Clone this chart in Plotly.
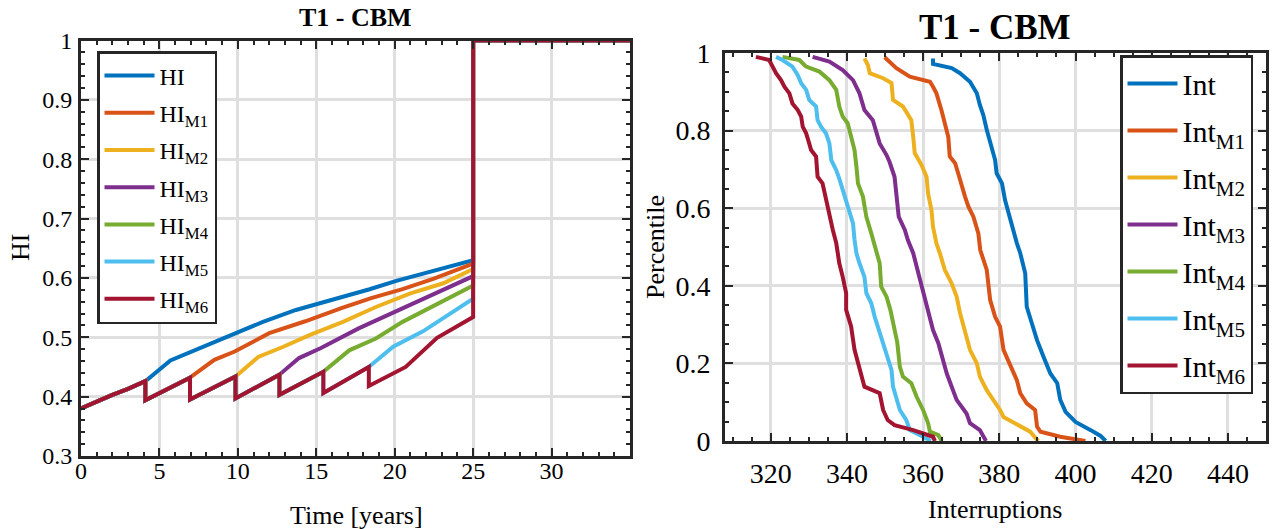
import plotly.graph_objects as go

# ---------------- data: left panel (HI vs time) ----------------
COLORS = ['#0072BD', '#D95319', '#EDB120', '#7E2F8E', '#77AC30', '#4DBEEE', '#A2142F']
hi_names = ['HI', 'HI<sub>M1</sub>', 'HI<sub>M2</sub>', 'HI<sub>M3</sub>',
            'HI<sub>M4</sub>', 'HI<sub>M5</sub>', 'HI<sub>M6</sub>']

start_t = [0, 1, 2, 3]
start_hi = [0.380, 0.392, 0.403, 0.413]
maint_t = [4.1, 6.95, 9.85, 12.65, 15.45, 18.35]
maint_pre = [0.426, 0.432, 0.434, 0.437, 0.442, 0.450]
maint_post = [0.394, 0.395, 0.397, 0.403, 0.406, 0.418]

tail_hi_t = [5.7, 7.1, 9.3, 11.6, 13.7, 15.2, 16.7, 18.4, 20.1, 22.4, 25]
tail_hi_v = [0.461, 0.476, 0.501, 0.526, 0.546, 0.557, 0.568, 0.581, 0.595, 0.611, 0.630]
tail_m1_t = [8.5, 9.8, 12.0, 14.3, 16.6, 18.5, 20.5, 22.5, 25]
tail_m1_v = [0.462, 0.476, 0.507, 0.527, 0.549, 0.566, 0.581, 0.599, 0.624]
tail_m2_t = [11.3, 12.9, 14.6, 16.7, 18.8, 21.0, 23.1, 25]
tail_m2_v = [0.467, 0.484, 0.504, 0.526, 0.551, 0.574, 0.591, 0.615]
tail_m3_t = [13.9, 15.3, 17.7, 19.9, 22.0, 25]
tail_m3_v = [0.465, 0.482, 0.515, 0.541, 0.566, 0.603]
tail_m4_t = [17.1, 18.8, 20.5, 22.7, 25]
tail_m4_v = [0.478, 0.498, 0.526, 0.555, 0.587]
tail_m5_t = [19.9, 21.8, 25]
tail_m5_v = [0.484, 0.510, 0.565]
tail_m6_t = [20.7, 22.7, 25]
tail_m6_v = [0.450, 0.499, 0.534]
end_t = [25, 35]
end_hi = [1.0, 1.0]

tails_t = [tail_hi_t, tail_m1_t, tail_m2_t, tail_m3_t, tail_m4_t, tail_m5_t, tail_m6_t]
tails_v = [tail_hi_v, tail_m1_v, tail_m2_v, tail_m3_v, tail_m4_v, tail_m5_v, tail_m6_v]

# ---------------- data: right panel (percentile vs interruptions) ----------------
int_names = ['Int', 'Int<sub>M1</sub>', 'Int<sub>M2</sub>', 'Int<sub>M3</sub>',
             'Int<sub>M4</sub>', 'Int<sub>M5</sub>', 'Int<sub>M6</sub>']

int0_x = [362.6, 362.6, 367.5, 369.7, 372.3, 374.1, 374.9, 375.8, 376.7, 378.0, 378.9, 379.3, 380.7,
          381.5, 382.4, 383.7, 384.6, 385.5, 386.8, 387.2, 388.6, 389.9, 391.6, 393.4, 395.2, 396.0,
          397.4, 400.0, 404.0, 406.6, 407.9]
int0_p = [0.986, 0.972, 0.961, 0.948, 0.926, 0.896, 0.866, 0.840, 0.802, 0.759, 0.724, 0.690, 0.664,
          0.621, 0.587, 0.544, 0.510, 0.484, 0.432, 0.346, 0.303, 0.260, 0.217, 0.174, 0.149, 0.106,
          0.075, 0.049, 0.028, 0.013, 0.0]
int1_x = [349.9, 353.0, 356.5, 361.8, 362.6, 363.5, 364.8, 365.7, 366.6, 367.0, 368.4, 369.2, 370.1,
          371.0, 371.9, 373.2, 374.5, 375.0, 376.7, 377.6, 378.9, 380.2, 381.1, 382.8, 384.6, 385.5,
          387.2, 389.4, 389.9, 390.8, 396.0, 402.6]
int1_p = [0.989, 0.961, 0.939, 0.926, 0.913, 0.896, 0.853, 0.823, 0.784, 0.733, 0.716, 0.690, 0.655,
          0.630, 0.604, 0.578, 0.535, 0.492, 0.441, 0.363, 0.320, 0.295, 0.235, 0.200, 0.157, 0.123,
          0.097, 0.080, 0.037, 0.024, 0.011, 0.0]
int2_x = [344.6, 345.5, 346.0, 349.5, 351.7, 352.1, 354.7, 356.9, 357.4, 357.8, 359.6, 360.9, 361.3,
          362.2, 362.6, 363.5, 364.4, 365.7, 367.5, 368.8, 369.7, 371.0, 372.3, 374.1, 374.9, 376.7,
          378.4, 380.2, 381.1, 385.5, 388.1, 390.2]
int2_p = [0.986, 0.969, 0.948, 0.935, 0.923, 0.879, 0.862, 0.827, 0.784, 0.742, 0.711, 0.681, 0.638,
          0.595, 0.552, 0.509, 0.484, 0.441, 0.406, 0.372, 0.329, 0.286, 0.235, 0.200, 0.166, 0.131,
          0.106, 0.080, 0.062, 0.037, 0.024, 0.0]
int3_x = [331.0, 335.4, 338.9, 341.6, 343.3, 344.6, 346.8, 347.7, 348.6, 350.4, 351.2, 352.5, 353.0,
          353.6, 355.2, 356.0, 357.4, 358.3, 359.6, 360.5, 361.8, 362.6, 364.0, 365.3, 366.2, 367.5,
          368.8, 371.4, 372.3, 374.9, 376.5]
int3_p = [0.990, 0.978, 0.956, 0.930, 0.896, 0.853, 0.827, 0.793, 0.767, 0.737, 0.719, 0.681, 0.621,
          0.578, 0.544, 0.518, 0.484, 0.449, 0.406, 0.363, 0.320, 0.286, 0.252, 0.209, 0.174, 0.140,
          0.106, 0.071, 0.046, 0.028, 0.0]
int4_x = [323.1, 327.5, 329.3, 332.8, 335.4, 337.2, 338.0, 338.9, 340.2, 341.1, 342.0, 342.5, 342.9,
          344.2, 345.1, 346.4, 347.7, 348.6, 349.0, 350.4, 351.4, 352.3, 353.2, 353.9, 354.7, 356.9,
          358.3, 360.0, 361.3, 361.8, 364.0, 364.9]
int4_p = [0.990, 0.982, 0.965, 0.952, 0.930, 0.905, 0.862, 0.836, 0.819, 0.784, 0.750, 0.707, 0.664,
          0.630, 0.578, 0.535, 0.484, 0.458, 0.398, 0.372, 0.338, 0.291, 0.255, 0.191, 0.166, 0.149,
          0.114, 0.080, 0.046, 0.024, 0.015, 0.0]
int5_x = [321.4, 323.1, 325.7, 327.1, 328.0, 329.3, 330.1, 331.9, 332.3, 333.2, 334.5, 335.4, 335.9,
          337.2, 338.1, 338.9, 339.8, 340.7, 341.6, 342.0, 342.5, 343.3, 344.6, 345.1, 346.4, 347.3,
          348.1, 349.0, 349.9, 350.8, 351.7, 352.1, 353.0, 353.9, 355.6, 356.5, 360.0, 362.0]
int5_p = [0.990, 0.982, 0.965, 0.943, 0.922, 0.905, 0.879, 0.862, 0.827, 0.810, 0.793, 0.767, 0.724,
          0.698, 0.673, 0.647, 0.613, 0.587, 0.561, 0.518, 0.484, 0.458, 0.423, 0.381, 0.355, 0.320,
          0.295, 0.269, 0.235, 0.209, 0.183, 0.140, 0.106, 0.080, 0.054, 0.028, 0.011, 0.0]
int6_x = [316.1, 319.6, 320.5, 321.4, 322.7, 323.6, 324.9, 325.7, 327.1, 328.0, 328.4, 329.3, 330.1,
          330.6, 331.9, 332.3, 333.6, 334.5, 335.4, 336.3, 337.2, 338.0, 338.9, 339.8, 339.8, 341.1,
          342.0, 342.9, 343.8, 344.6, 348.6, 349.5, 350.7, 352.5, 357.4, 360.0, 362.6, 363.1]
int6_p = [0.990, 0.982, 0.965, 0.948, 0.930, 0.913, 0.896, 0.870, 0.853, 0.836, 0.810, 0.793, 0.767,
          0.750, 0.733, 0.681, 0.664, 0.621, 0.578, 0.544, 0.510, 0.458, 0.423, 0.381, 0.338, 0.295,
          0.235, 0.200, 0.166, 0.140, 0.123, 0.080, 0.054, 0.041, 0.028, 0.020, 0.011, 0.0]

ints_x = [int0_x, int1_x, int2_x, int3_x, int4_x, int5_x, int6_x]
ints_p = [int0_p, int1_p, int2_p, int3_p, int4_p, int5_p, int6_p]

# ---------------- figure ----------------
FONT = 'Liberation Serif, Times New Roman, serif'
AXC = '#262626'
GRID = '#dfdfdf'
W, H = 1274, 529

fig = go.Figure(layout=dict(template='none'))


def hi_path(k):
    t = list(start_t)
    v = list(start_hi)
    for i in range(min(k, len(maint_t))):
        t += [maint_t[i], maint_t[i]]
        v += [maint_pre[i], maint_post[i]]
    if k < len(maint_t):
        t.append(maint_t[k])
        v.append(maint_pre[k])
    t += tails_t[k] + end_t
    v += tails_v[k] + end_hi
    return t, v


for k in range(7):
    t, v = hi_path(k)
    fig.add_trace(go.Scatter(x=t, y=v, mode='lines', name=hi_names[k],
                             legendgroup='hi%d' % k,
                             line=dict(color=COLORS[k], width=4),
                             xaxis='x', yaxis='y', legend='legend'))

for k in range(7):
    fig.add_trace(go.Scatter(x=ints_x[k], y=ints_p[k], mode='lines', name=int_names[k],
                             legendgroup='int%d' % k,
                             line=dict(color=COLORS[k], width=4),
                             xaxis='x2', yaxis='y2', legend='legend2'))


def ax(domain, rng, tickvals, minor_dtick, anchor, size, standoff):
    return dict(domain=domain, range=rng, tickmode='array', tickvals=tickvals, anchor=anchor,
                automargin=False,
                showgrid=True, gridcolor=GRID, gridwidth=2.5, zeroline=False,
                showline=True, linecolor=AXC, linewidth=3, mirror='allticks',
                ticks='inside', ticklen=8, tickwidth=2, tickcolor=AXC,
                ticklabelstandoff=standoff,
                minor=dict(dtick=minor_dtick, tick0=0, ticks='inside', ticklen=4,
                           tickwidth=2, tickcolor=AXC, showgrid=False),
                tickfont=dict(family=FONT, size=size, color='#000'),
                fixedrange=True)


lx = [81 / W, 630 / W]
ly = [1 - 456 / H, 1 - 40.5 / H]
rx = [725 / W, 1266 / W]
ry = [1 - 441 / H, 1 - 53 / H]


def label(text, x, y, size, angle=0):
    return dict(text=text, x=x / W, y=1 - y / H, xref='paper', yref='paper',
                xanchor='center', yanchor='middle', textangle=angle,
                showarrow=False, font=dict(family=FONT, size=size, color='#000'))


fig.update_layout(
    width=W, height=H,
    margin=dict(l=0, r=0, t=0, b=0, pad=0),
    paper_bgcolor='white', plot_bgcolor='white',
    font=dict(family=FONT, color='#000'),
    showlegend=True,
    xaxis=ax(lx, [0, 35], [0, 5, 10, 15, 20, 25, 30], 1, 'y', 24, -9),
    yaxis=ax(ly, [0.3, 1.0], [0.3, 0.4, 0.5, 0.6, 0.7, 0.8, 0.9, 1.0], 0.02, 'x', 24, 1),
    xaxis2=ax(rx, [308, 450], [320, 340, 360, 380, 400, 420, 440], 5, 'y2', 28, 5),
    yaxis2=ax(ry, [0, 1], [0, 0.2, 0.4, 0.6, 0.8, 1.0], 0.05, 'x2', 28, 6),
    legend=dict(x=97 / W, y=1 - 51 / H, xanchor='left', yanchor='top', itemwidth=50,
                tracegroupgap=3,
                bgcolor='white', bordercolor=AXC, borderwidth=2.5,
                font=dict(family=FONT, size=24, color='#000')),
    legend2=dict(x=1120 / W, y=1 - 55 / H, xanchor='left', yanchor='top', itemwidth=50,
                 tracegroupgap=5,
                 bgcolor='white', bordercolor=AXC, borderwidth=2.5,
                 font=dict(family=FONT, size=30, color='#000')),
    annotations=[
        label('<b>T1 - CBM</b>', 355, 18, 26),
        label('<b>T1 - CBM</b>', 995, 28, 35),
        label('Time [years]', 356, 515, 26),
        label('HI', 20, 248, 26, -90),
        label('Interruptions', 995, 509, 26),
        label('Percentile', 655, 247, 26, -90),
    ],
)

fig.write_html("out.html", config={'displayModeBar': False},
               post_script="document.body.style.margin='0';")
